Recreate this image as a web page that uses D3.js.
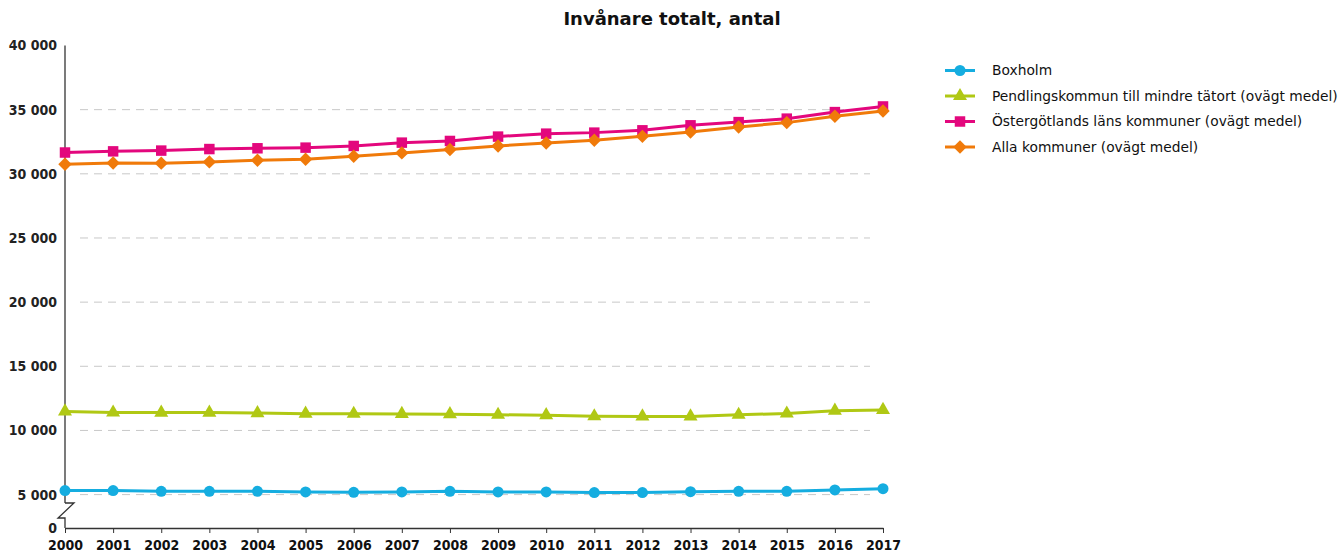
<!DOCTYPE html>
<html><head><meta charset="utf-8">
<script src="https://cdn.jsdelivr.net/npm/d3@7"></script>
<style>body{margin:0;background:#fff;}svg{display:block;font-family:"DejaVu Sans",sans-serif;}</style>
</head><body><svg id="c" width="1343" height="554"></svg>
<script>
const years = [2000,2001,2002,2003,2004,2005,2006,2007,2008,2009,2010,2011,2012,2013,2014,2015,2016,2017];
const boxholm = [5310,5310,5260,5260,5260,5210,5180,5210,5260,5210,5210,5160,5160,5230,5260,5260,5360,5460];
const pendling = [11480,11400,11390,11390,11350,11310,11300,11290,11270,11220,11190,11100,11090,11090,11220,11320,11540,11600];
const ostergotland = [31660,31750,31810,31930,31990,32040,32170,32430,32560,32900,33130,33210,33390,33780,34030,34300,34810,35250];
const allaKommuner = [30750,30840,30830,30930,31060,31140,31370,31630,31890,32170,32400,32610,32920,33260,33650,33990,34480,34890];
const yTicks = [0,5000,10000,15000,20000,25000,30000,35000,40000];
const seriesNames = ["Boxholm","Pendlingskommun till mindre tätort (ovägt medel)","Östergötlands läns kommuner (ovägt medel)","Alla kommuner (ovägt medel)"];
const seriesColors = ["#15ade0","#b0c814","#e3077d","#f07a0a"];
const seriesSymbols = ["circle","triangle","square","diamond"];
const title = "Invånare totalt, antal";

const svg = d3.select("#c");
const x = d3.scalePoint().domain(years).range([65,883]);
const y = d3.scaleLinear().domain([0,5000,40000]).range([528,494.6,45.5]);
const fmt = v => d3.format(",")(v).replace(/,/g," ");
const cond = "DejaVu Sans Condensed, DejaVu Sans, sans-serif";

svg.append("text").attr("x",672).attr("y",25).attr("text-anchor","middle")
  .attr("font-size",18).attr("font-weight","bold").attr("fill","#111").text(title);

// grid
svg.append("g").selectAll("line").data(yTicks.filter(t=>t>0&&t<40000)).join("line")
  .attr("x1",80).attr("x2",870).attr("y1",d=>y(d)).attr("y2",d=>y(d))
  .attr("stroke","#c8c8c8").attr("stroke-width",1).attr("stroke-dasharray","8,6");

// y labels
svg.append("g").selectAll("text").data(yTicks).join("text")
  .attr("x",57).attr("y",d=>y(d)).attr("dy","0.35em").attr("text-anchor","end")
  .attr("font-family",cond).attr("font-size",14).attr("font-weight","bold").attr("fill","#222").text(fmt);

// y axis with break
const ax = svg.append("g").attr("stroke","#333").attr("fill","none").attr("stroke-width",1.3);
ax.append("line").attr("x1",65).attr("x2",65).attr("y1",y(40000)).attr("y2",503);
ax.append("path").attr("d","M65,503 L74,503 L58,518 L65,518 L65,528");

// x axis
const xa = svg.append("g").attr("transform","translate(0,528)").call(d3.axisBottom(x).tickSize(5).tickSizeOuter(0));
xa.select(".domain").attr("stroke","#333").attr("stroke-width",1.3);
xa.selectAll(".tick line").attr("stroke","#333");
xa.selectAll("text").attr("font-size",14).attr("font-weight","bold").attr("fill","#111")
  .attr("font-family",cond).attr("dy","1.0em");

const symbolPath = (name) => {
  if (name==="circle") return d3.symbol(d3.symbolCircle,95)();
  if (name==="triangle") return d3.symbol(d3.symbolTriangle,85)();
  if (name==="square") return d3.symbol(d3.symbolSquare,110)();
  return d3.symbol(d3.symbolSquare,90)();
};
const symRot = name => name==="diamond" ? " rotate(45)" : "";

const allSeries = [boxholm,pendling,ostergotland,allaKommuner];
const line = d3.line().x((d,i)=>x(years[i])).y(d=>y(d));
allSeries.forEach((vals,si)=>{
  const g = svg.append("g");
  g.append("path").datum(vals).attr("d",line).attr("fill","none")
    .attr("stroke",seriesColors[si]).attr("stroke-width",3);
  g.selectAll("path.m").data(vals).join("path").attr("class","m")
    .attr("d",symbolPath(seriesSymbols[si]))
    .attr("transform",(d,i)=>`translate(${x(years[i])},${y(d)})${symRot(seriesSymbols[si])}`)
    .attr("fill",seriesColors[si]);
});

// legend
const lg = svg.append("g");
seriesNames.forEach((n,i)=>{
  const ly = 70.5 + i*25.5;
  lg.append("line").attr("x1",945).attr("x2",975).attr("y1",ly).attr("y2",ly)
    .attr("stroke",seriesColors[i]).attr("stroke-width",3);
  lg.append("path").attr("d",symbolPath(seriesSymbols[i]))
    .attr("transform",`translate(960,${ly})${symRot(seriesSymbols[i])}`).attr("fill",seriesColors[i]);
  lg.append("text").attr("x",992).attr("y",ly).attr("dy","0.35em").attr("font-size",13.8)
    .attr("fill","#111").text(n);
});
</script></body></html>
